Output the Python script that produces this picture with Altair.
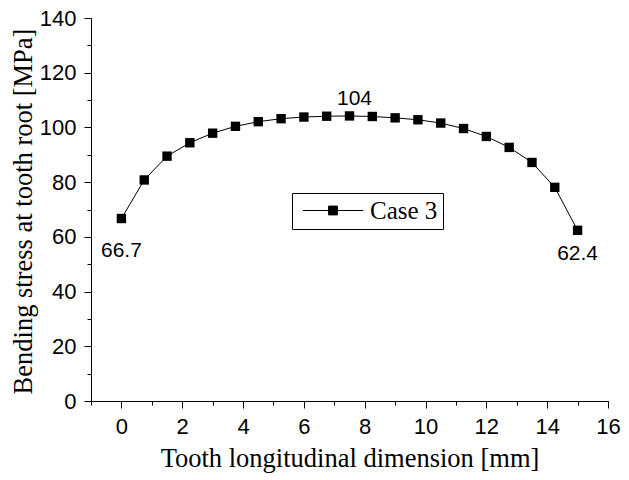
import altair as alt
import pandas as pd

# Data
x_mm = [0.0, 0.75, 1.5, 2.25, 3.0, 3.75, 4.5, 5.25, 6.0, 6.75, 7.5,
        8.25, 9.0, 9.75, 10.5, 11.25, 12.0, 12.75, 13.5, 14.25, 15.0]
stress = [66.7, 80.8, 89.5, 94.4, 97.9, 100.4, 102.1, 103.2, 103.8, 104.1, 104.2,
          104.0, 103.5, 102.8, 101.6, 99.6, 96.7, 92.7, 87.2, 78.1, 62.4]
series_name = "Case 3"

x_major = list(range(0, 17, 2))
x_minor = list(range(-1, 17))
y_major = list(range(0, 141, 20))
y_minor = list(range(0, 141, 10))

ann_x = [0.0, 7.5, 15.0]
ann_y = [66.7, 104.2, 62.4]
ann_text = ["66.7", "104", "62.4"]

df = pd.DataFrame({"x": x_mm, "stress": stress, "series": [series_name] * len(x_mm)})
ann = pd.DataFrame({"x": ann_x, "y": ann_y, "t": ann_text})

SANS = "Liberation Sans Narrow, Liberation Sans, sans-serif"
SERIF = "Liberation Serif, Times New Roman, serif"

xscale = alt.Scale(domain=[-1, 16], nice=False, zero=False)
yscale = alt.Scale(domain=[0, 140], nice=False)

x_major_axis = alt.Axis(values=x_major, orient="bottom", labelOverlap=False, labelFlush=False,
                        title="Tooth longitudinal dimension [mm]", grid=False,
                        domainColor="black", tickColor="black", tickSize=7,
                        labelColor="black", labelFont=SANS, labelFontSize=22,
                        labelPadding=8, titleFont=SERIF, titleFontSize=26.5,
                        titleFontWeight="normal", titleColor="black", titlePadding=8)
y_major_axis = alt.Axis(values=y_major, orient="left", labelOverlap=False,
                        title="Bending stress at tooth root [MPa]", grid=False,
                        domainColor="black", tickColor="black", tickSize=7,
                        labelColor="black", labelFont=SANS, labelFontSize=22,
                        labelPadding=8, titleFont=SERIF, titleFontSize=26.5,
                        titleFontWeight="normal", titleColor="black", titlePadding=2,
                        titleY=193)
x_minor_axis = alt.Axis(values=x_minor, orient="bottom", labels=False, domain=False,
                        title=None, grid=False, tickColor="black", tickSize=4)
y_minor_axis = alt.Axis(values=y_minor, orient="left", labels=False, domain=False,
                        title=None, grid=False, tickColor="black", tickSize=4)

base = alt.Chart(df)
line = base.mark_line(color="black", strokeWidth=1).encode(
    x=alt.X("x:Q", scale=xscale, axis=x_major_axis),
    y=alt.Y("stress:Q", scale=yscale, axis=y_major_axis),
)
points = base.mark_square(size=88, filled=True, opacity=1).encode(
    x=alt.X("x:Q", scale=xscale, axis=x_minor_axis),
    y=alt.Y("stress:Q", scale=yscale, axis=y_minor_axis),
    color=alt.Color("series:N", scale=alt.Scale(range=["black"]),
                    legend=alt.Legend(
                        title=None, orient="none", legendX=201, legendY=175,
                        strokeColor="black", fillColor="white", padding=5,
                        symbolType="M-2.52,0L2.52,0M-0.367,-0.367L0.367,-0.367L0.367,0.367L-0.367,0.367Z",
                        symbolSize=576, symbolStrokeWidth=1, symbolOffset=23.5,
                        symbolStrokeColor="black", symbolFillColor="black",
                        labelFont=SERIF, labelFontSize=25, labelColor="black",
                        labelOffset=24.5)),
)

def label(i, dx, dy):
    return alt.Chart(ann.iloc[[i]]).mark_text(
        font=SANS, fontSize=21, color="black", dx=dx, dy=dy).encode(
        x=alt.X("x:Q", scale=xscale, axis=None),
        y=alt.Y("y:Q", scale=yscale, axis=None),
        text="t:N")

chart = alt.layer(line, points, label(0, 0, 32), label(1, 5, -17), label(2, 0, 24)).resolve_axis(
    x="independent", y="independent"
).properties(
    width=517, height=383,
    padding={"left": 83, "top": 10, "right": 13, "bottom": 75},
    autosize=alt.AutoSizeParams(type="none"),
    background="white",
).configure_view(stroke=None)

chart.save("out.html", embed_options={"renderer": "svg", "actions": False})
